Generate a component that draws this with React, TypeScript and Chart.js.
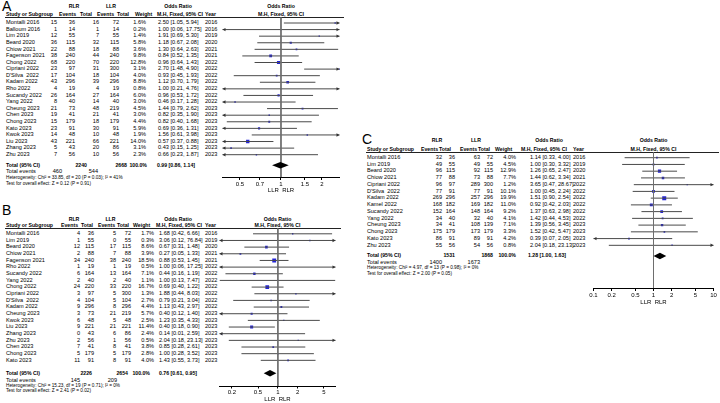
import React, { useEffect, useRef } from 'react';
import { Chart, registerables } from 'chart.js';

Chart.register(...registerables);

const FONT = '"Liberation Sans", Arial, Helvetica, sans-serif';
const W = 720;
const H = 403;
const BODY_FS = 5.6;
const HEAD_FS = 5.2;
const FOOT_FS = 4.7;

// ---------------- Panel A ----------------
const A_STUDIES = ['Montalli 2016', 'Balloum 2016', 'Lim 2019', 'Beard 2020', 'Chiow 2021', 'Fagenson 2021', 'Chong 2022', 'Cipriani 2022', "D'Silva  2022", 'Kadam 2022', 'Rho 2022', 'Sucandy 2022', 'Yang 2022', 'Cheung 2023', 'Chen 2023', 'Chong 2023', 'Kato 2023', 'Kwok 2023', 'Liu 2023', 'Zhang 2023', 'Zhu 2023'];
const A_RLR_EVENTS = [15, 1, 12, 36, 22, 38, 68, 23, 17, 43, 4, 26, 8, 21, 19, 15, 23, 14, 43, 5, 7];
const A_RLR_TOTAL = [36, 14, 55, 115, 88, 240, 220, 97, 104, 296, 19, 164, 40, 73, 41, 179, 91, 48, 221, 43, 56];
const A_LLR_EVENTS = [16, 1, 7, 32, 18, 44, 70, 31, 18, 39, 4, 27, 14, 48, 21, 18, 30, 10, 66, 20, 10];
const A_LLR_TOTAL = [72, 14, 55, 115, 88, 240, 220, 300, 104, 296, 19, 164, 40, 219, 41, 179, 91, 48, 221, 86, 56];
const A_WEIGHT = [1.6, 0.2, 1.4, 5.8, 3.6, 9.8, 12.8, 3.1, 4.0, 8.8, 0.8, 6.0, 3.0, 4.5, 3.0, 4.4, 5.9, 1.9, 14.0, 3.1, 2.3];
const A_OR = [2.5, 1.0, 1.91, 1.18, 1.3, 0.84, 0.96, 2.7, 0.93, 1.12, 1.0, 0.96, 0.46, 1.44, 0.82, 0.82, 0.69, 1.56, 0.57, 0.43, 0.66];
const A_LOWER = [1.05, 0.06, 0.69, 0.67, 0.64, 0.52, 0.64, 1.48, 0.45, 0.7, 0.21, 0.53, 0.17, 0.79, 0.35, 0.4, 0.36, 0.61, 0.37, 0.15, 0.23];
const A_UPPER = [5.94, 17.75, 5.3, 2.08, 2.63, 1.35, 1.43, 4.9, 1.93, 1.79, 4.76, 1.72, 1.28, 2.62, 1.9, 1.68, 1.31, 3.98, 0.88, 1.25, 1.87];
const A_YEAR = [2016, 2016, 2019, 2020, 2021, 2021, 2022, 2022, 2022, 2022, 2022, 2022, 2022, 2023, 2023, 2023, 2023, 2023, 2023, 2023, 2023];
const A_TOTAL_N = [2240, 2668];
const A_TOTAL_EVENTS = [460, 544];
const A_POOLED = [0.99, 0.86, 1.14];
const A_HET = 'Heterogeneity: Chi² = 33.85, df = 20 (P = 0.03); I² = 41%';
const A_TEST = 'Test for overall effect: Z = 0.12 (P = 0.91)';
const A_TICKS = [0.5, 0.7, 1, 1.5, 2];

// ---------------- Panel B ----------------
const B_STUDIES = ['Montalli 2016', 'Lim 2019', 'Beard 2020', 'Chiow 2021', 'Fagenson 2021', 'Rho 2022', 'Sucandy 2022', 'Yang 2022', 'Chong 2022', 'Cipriani 2022', "D'Silva  2022", 'Kadam 2022', 'Cheung 2023', 'Kwok 2023', 'Liu 2023', 'Zhang 2023', 'Zhu 2023', 'Chen 2023', 'Chong 2023', 'Kato 2023'];
const B_RLR_EVENTS = [4, 1, 12, 2, 34, 1, 6, 2, 24, 3, 4, 9, 3, 6, 9, 0, 2, 7, 5, 11];
const B_RLR_TOTAL = [36, 55, 115, 88, 240, 19, 164, 40, 220, 97, 104, 296, 73, 48, 221, 43, 56, 41, 179, 91];
const B_LLR_EVENTS = [5, 0, 17, 7, 38, 1, 13, 2, 33, 5, 5, 8, 21, 5, 21, 6, 1, 8, 5, 8];
const B_LLR_TOTAL = [72, 55, 115, 88, 240, 19, 164, 40, 220, 300, 104, 296, 219, 48, 221, 86, 56, 41, 179, 91];
const B_WEIGHT = [1.7, 0.3, 8.6, 3.9, 18.5, 0.5, 7.1, 1.1, 16.7, 1.3, 2.7, 4.4, 5.7, 2.5, 11.4, 2.4, 0.5, 3.8, 2.8, 4.0];
const B_OR = [1.68, 3.06, 0.67, 0.27, 0.88, 1.0, 0.44, 1.0, 0.69, 1.88, 0.79, 1.13, 0.4, 1.23, 0.4, 0.14, 2.04, 0.85, 1.0, 1.43];
const B_LOWER = [0.42, 0.12, 0.31, 0.05, 0.53, 0.06, 0.16, 0.13, 0.4, 0.44, 0.21, 0.43, 0.12, 0.35, 0.18, 0.01, 0.18, 0.28, 0.28, 0.55];
const B_UPPER = [6.66, 76.84, 1.48, 1.33, 1.45, 17.25, 1.19, 7.47, 1.22, 8.03, 3.04, 2.97, 1.4, 4.33, 0.9, 2.59, 23.13, 2.61, 3.52, 3.73];
const B_YEAR = [2016, 2019, 2020, 2021, 2021, 2022, 2022, 2022, 2022, 2022, 2022, 2022, 2023, 2023, 2023, 2023, 2023, 2023, 2023, 2023];
const B_TOTAL_N = [2226, 2654];
const B_TOTAL_EVENTS = [145, 209];
const B_POOLED = [0.76, 0.61, 0.95];
const B_HET = 'Heterogeneity: Chi² = 15.23, df = 19 (P = 0.71); I² = 0%';
const B_TEST = 'Test for overall effect: Z = 2.41 (P = 0.02)';
const B_TICKS = [0.2, 0.5, 1, 2, 5];

// ---------------- Panel C ----------------
const C_STUDIES = ['Montalli 2016', 'Lim 2019', 'Beard 2020', 'Chiow 2021', 'Cipriani 2022', "D'Silva  2022", 'Kadam 2022', 'Kamel 2022', 'Sucandy 2022', 'Yang 2022', 'Cheung 2023', 'Chong 2023', 'Kato 2023', 'Zhu 2023'];
const C_RLR_EVENTS = [32, 49, 96, 77, 96, 77, 269, 168, 152, 34, 34, 175, 86, 55];
const C_RLR_TOTAL = [36, 55, 115, 88, 97, 91, 296, 182, 164, 40, 41, 179, 91, 56];
const C_LLR_EVENTS = [63, 49, 92, 73, 289, 77, 257, 169, 148, 32, 108, 173, 89, 54];
const C_LLR_TOTAL = [72, 55, 115, 88, 300, 91, 296, 182, 164, 40, 139, 179, 91, 56];
const C_WEIGHT = [4.0, 4.5, 12.9, 7.7, 1.2, 10.1, 19.9, 11.0, 9.2, 4.1, 7.1, 3.3, 4.2, 0.8];
const C_OR = [1.14, 1.0, 1.26, 1.44, 3.65, 1.0, 1.51, 0.92, 1.37, 1.42, 1.39, 1.52, 0.39, 2.04];
const C_LOWER = [0.33, 0.3, 0.65, 0.62, 0.47, 0.45, 0.9, 0.42, 0.63, 0.44, 0.56, 0.42, 0.07, 0.18];
const C_UPPER = [4.0, 3.32, 2.47, 3.34, 28.67, 2.24, 2.54, 2.03, 2.98, 4.53, 3.45, 5.47, 2.05, 23.13];
const C_YEAR = [2016, 2019, 2020, 2021, 2022, 2022, 2022, 2022, 2022, 2022, 2023, 2023, 2023, 2023];
const C_TOTAL_N = [1531, 1868];
const C_TOTAL_EVENTS = [1400, 1673];
const C_POOLED = [1.28, 1.0, 1.63];
const C_HET = 'Heterogeneity: Chi² = 4.97, df = 13 (P = 0.98); I² = 0%';
const C_TEST = 'Test for overall effect: Z = 2.00 (P = 0.05)';
const C_TICKS = [0.1, 0.2, 0.5, 1, 2, 5, 10];

// ---------------- Layouts (positions only) ----------------
const LAYOUT_A = {
  letter: 'A', letterX: 2, letterY: 6.3,
  hdr1Y: 6.7, hdr2Y: 14.7, lineY: 17.3, lineX1: 5, lineX2: 344,
  rlrC: 74, llrC: 111, orC: 178,
  studyX: 6,
  hEv1L: 59, hTot1L: 80, hEv2L: 97, hTot2L: 117, hWL: 135, hCiL: 157, hYearL: 205,
  ev1R: 57, tot1R: 75, ev2R: 99, tot2R: 119, wR: 146, ciL: 158, yearL: 205,
  row0Y: 23, rowStep: 6.585,
  totalY: 165.3, eventsY: 171.7, hetY: 178, testY: 184.3,
  totN1R: 87, totN2R: 127, totWR: 147, totCiL: 157, totEv1R: 62, totEv2R: 98,
  plotL: 222.5, plotR: 339.5, axisY: 177, axisH: 16.6, tickLen: 3, tickPad: 0.5,
  xMin: 0.372, xMax: 2.69,
};
const LAYOUT_B = {
  letter: 'B', letterX: 2, letterY: 210,
  hdr1Y: 219.3, hdr2Y: 225.7, lineY: 228.3, lineX1: 5, lineX2: 341,
  rlrC: 74, llrC: 110.5, orC: 178,
  studyX: 6,
  hEv1L: 61, hTot1L: 81, hEv2L: 98, hTot2L: 117, hWL: 133, hCiL: 156, hYearL: 205,
  ev1R: 80, tot1R: 94, ev2R: 116, tot2R: 131, wR: 154, ciL: 159, yearL: 205,
  row0Y: 233.8, rowStep: 6.66,
  totalY: 373.3, eventsY: 380.3, hetY: 386, testY: 391.7,
  totN1R: 92, totN2R: 128, totWR: 150, totCiL: 159, totEv1R: 80, totEv2R: 117,
  plotL: 219.5, plotR: 335.5, axisY: 386, axisH: 17, tickLen: 2.5, tickPad: 0.3,
  xMin: 0.13, xMax: 7.5,
};
const LAYOUT_C = {
  letter: 'C', letterX: 362, letterY: 139,
  hdr1Y: 141, hdr2Y: 149.5, lineY: 152.3, lineX1: 366, lineX2: 719,
  rlrC: 437, llrC: 476, orC: 549,
  studyX: 367,
  hEv1L: 421, hTot1L: 439, hEv2L: 460, hTot2L: 478, hWL: 495, hCiL: 521, hYearL: 573,
  ev1R: 442, tot1R: 455, ev2R: 480, tot2R: 493, wR: 516, ciL: 530, yearL: 573,
  row0Y: 157.7, rowStep: 6.74,
  totalY: 256, eventsY: 262.3, hetY: 268.5, testY: 274.5,
  totN1R: 455, totN2R: 493, totWR: 516, totCiL: 528, totEv1R: 442, totEv2R: 480,
  plotL: 593.5, plotR: 713.5, axisY: 288, axisH: 17.6, tickLen: 3, tickPad: 0.5,
  xMin: 0.1, xMax: 10,
};

const PANEL_A = {
  L: LAYOUT_A, studies: A_STUDIES, rlrEv: A_RLR_EVENTS, rlrN: A_RLR_TOTAL, llrEv: A_LLR_EVENTS, llrN: A_LLR_TOTAL,
  weight: A_WEIGHT, or: A_OR, lower: A_LOWER, upper: A_UPPER, year: A_YEAR,
  totalN: A_TOTAL_N, totalEv: A_TOTAL_EVENTS, pooled: A_POOLED, het: A_HET, test: A_TEST, ticks: A_TICKS,
};
const PANEL_B = {
  L: LAYOUT_B, studies: B_STUDIES, rlrEv: B_RLR_EVENTS, rlrN: B_RLR_TOTAL, llrEv: B_LLR_EVENTS, llrN: B_LLR_TOTAL,
  weight: B_WEIGHT, or: B_OR, lower: B_LOWER, upper: B_UPPER, year: B_YEAR,
  totalN: B_TOTAL_N, totalEv: B_TOTAL_EVENTS, pooled: B_POOLED, het: B_HET, test: B_TEST, ticks: B_TICKS,
};
const PANEL_C = {
  L: LAYOUT_C, studies: C_STUDIES, rlrEv: C_RLR_EVENTS, rlrN: C_RLR_TOTAL, llrEv: C_LLR_EVENTS, llrN: C_LLR_TOTAL,
  weight: C_WEIGHT, or: C_OR, lower: C_LOWER, upper: C_UPPER, year: C_YEAR,
  totalN: C_TOTAL_N, totalEv: C_TOTAL_EVENTS, pooled: C_POOLED, het: C_HET, test: C_TEST, ticks: C_TICKS,
};

const fmtCI = (o: number, lo: number, hi: number) => `${o.toFixed(2)} [${lo.toFixed(2)}, ${hi.toFixed(2)}]`;
const boxSide = (w: number) => Math.max(1.4, 0.9 * Math.sqrt(w));

function Txt({ x, y, s, fs = BODY_FS, align = 'left', bold = false }: any) {
  const style: any = {
    position: 'absolute', left: x, top: y - fs / 2, fontSize: fs, lineHeight: fs + 'px',
    fontFamily: FONT, fontWeight: bold ? 700 : 400, whiteSpace: 'pre', color: '#000',
  };
  if (align === 'right') style.transform = 'translateX(-100%)';
  if (align === 'center') style.transform = 'translateX(-50%)';
  return <div style={style}>{s}</div>;
}

function PanelText({ p }: any) {
  const L = p.L;
  const plotC = (L.plotL + L.plotR) / 2;
  const rows: any[] = [];
  p.studies.forEach((name: string, i: number) => {
    const y = L.row0Y + i * L.rowStep;
    rows.push(
      <React.Fragment key={i}>
        <Txt x={L.studyX} y={y} s={name} />
        <Txt x={L.ev1R} y={y} s={String(p.rlrEv[i])} align="right" />
        <Txt x={L.tot1R} y={y} s={String(p.rlrN[i])} align="right" />
        <Txt x={L.ev2R} y={y} s={String(p.llrEv[i])} align="right" />
        <Txt x={L.tot2R} y={y} s={String(p.llrN[i])} align="right" />
        <Txt x={L.wR} y={y} s={p.weight[i].toFixed(1) + '%'} align="right" />
        <Txt x={L.ciL} y={y} s={fmtCI(p.or[i], p.lower[i], p.upper[i])} />
        <Txt x={L.yearL} y={y} s={String(p.year[i])} />
      </React.Fragment>
    );
  });
  return (
    <>
      <Txt x={L.letterX} y={L.letterY} s={L.letter} fs={14} />
      <Txt x={L.rlrC} y={L.hdr1Y} s="RLR" align="center" bold fs={HEAD_FS} />
      <Txt x={L.llrC} y={L.hdr1Y} s="LLR" align="center" bold fs={HEAD_FS} />
      <Txt x={L.orC} y={L.hdr1Y} s="Odds Ratio" align="center" bold fs={HEAD_FS} />
      <Txt x={plotC} y={L.hdr1Y} s="Odds Ratio" align="center" bold fs={HEAD_FS} />
      <Txt x={L.studyX} y={L.hdr2Y} s="Study or Subgroup" bold fs={HEAD_FS} />
      <Txt x={L.hEv1L} y={L.hdr2Y} s="Events" bold fs={HEAD_FS} />
      <Txt x={L.hTot1L} y={L.hdr2Y} s="Total" bold fs={HEAD_FS} />
      <Txt x={L.hEv2L} y={L.hdr2Y} s="Events" bold fs={HEAD_FS} />
      <Txt x={L.hTot2L} y={L.hdr2Y} s="Total" bold fs={HEAD_FS} />
      <Txt x={L.hWL} y={L.hdr2Y} s="Weight" bold fs={HEAD_FS} />
      <Txt x={L.hCiL} y={L.hdr2Y} s="M.H, Fixed, 95% CI" bold fs={HEAD_FS} />
      <Txt x={L.hYearL} y={L.hdr2Y} s="Year" bold fs={HEAD_FS} />
      <Txt x={plotC} y={L.hdr2Y} s="M.H, Fixed, 95% CI" align="center" bold fs={HEAD_FS} />
      <div style={{ position: 'absolute', left: L.lineX1, top: L.lineY - 0.5, width: L.lineX2 - L.lineX1, height: 1, background: '#222' }} />
      {rows}
      <Txt x={L.studyX} y={L.totalY} s="Total (95% CI)" bold fs={HEAD_FS} />
      <Txt x={L.totN1R} y={L.totalY} s={String(p.totalN[0])} align="right" bold fs={HEAD_FS} />
      <Txt x={L.totN2R} y={L.totalY} s={String(p.totalN[1])} align="right" bold fs={HEAD_FS} />
      <Txt x={L.totWR} y={L.totalY} s="100.0%" align="right" bold fs={HEAD_FS} />
      <Txt x={L.totCiL} y={L.totalY} s={fmtCI(p.pooled[0], p.pooled[1], p.pooled[2])} bold fs={HEAD_FS} />
      <Txt x={L.studyX} y={L.eventsY} s="Total events" />
      <Txt x={L.totEv1R} y={L.eventsY} s={String(p.totalEv[0])} align="right" />
      <Txt x={L.totEv2R} y={L.eventsY} s={String(p.totalEv[1])} align="right" />
      <Txt x={L.studyX} y={L.hetY} s={p.het} fs={FOOT_FS} />
      <Txt x={L.studyX} y={L.testY} s={p.test} fs={FOOT_FS} />
    </>
  );
}

function ForestPlot({ p }: any) {
  const ref = useRef<HTMLCanvasElement>(null);
  useEffect(() => {
    const canvas = ref.current as HTMLCanvasElement;
    const L = p.L;
    const n = p.or.length;
    const yTop = (L.lineY - L.row0Y) / L.rowStep;
    const yBot = (L.axisY - L.row0Y) / L.rowStep;
    const totalRow = (L.totalY - L.row0Y) / L.rowStep;

    const datasets: any[] = [];
    datasets.push({
      data: [{ x: 1, y: yTop }, { x: 1, y: yBot }],
      showLine: true, borderColor: '#6e6e6e', borderWidth: 1, pointRadius: 0,
    });
    for (let i = 0; i < n; i++) {
      datasets.push({
        data: [{ x: p.lower[i], y: i }, { x: p.upper[i], y: i }],
        showLine: true, borderColor: '#4a4a4a', borderWidth: 1, pointRadius: 0,
      });
    }
    datasets.push({
      data: p.or.map((v: number, i: number) => ({ x: v, y: i })),
      showLine: false, pointStyle: 'rect',
      pointRadius: p.weight.map((w: number) => boxSide(w) / Math.SQRT2),
      pointBackgroundColor: '#2323dc', pointBorderWidth: 0, borderWidth: 0,
    });

    const extras = {
      id: 'forestExtras',
      afterDatasetsDraw(chart: any) {
        const { ctx, scales } = chart;
        const xs = scales.x;
        const ys = scales.y;
        const left = xs.getPixelForValue(L.xMin);
        const right = xs.getPixelForValue(L.xMax);
        ctx.save();
        ctx.fillStyle = '#333';
        for (let i = 0; i < n; i++) {
          const yy = ys.getPixelForValue(i);
          if (p.lower[i] < L.xMin) {
            ctx.beginPath();
            ctx.moveTo(left, yy);
            ctx.lineTo(left + 3, yy - 1.7);
            ctx.lineTo(left + 3, yy + 1.7);
            ctx.closePath();
            ctx.fill();
          }
          if (p.upper[i] > L.xMax) {
            ctx.beginPath();
            ctx.moveTo(right, yy);
            ctx.lineTo(right - 3, yy - 1.7);
            ctx.lineTo(right - 3, yy + 1.7);
            ctx.closePath();
            ctx.fill();
          }
        }
        const yc = ys.getPixelForValue(totalRow);
        const xc = xs.getPixelForValue(p.pooled[0]);
        ctx.fillStyle = '#000';
        ctx.beginPath();
        ctx.moveTo(xs.getPixelForValue(p.pooled[1]), yc);
        ctx.lineTo(xc, yc - 3.2);
        ctx.lineTo(xs.getPixelForValue(p.pooled[2]), yc);
        ctx.lineTo(xc, yc + 3.2);
        ctx.closePath();
        ctx.fill();
        ctx.restore();
      },
    };

    const chart = new Chart(canvas, {
      type: 'scatter',
      data: { datasets },
      options: {
        responsive: false,
        animation: false,
        events: [],
        devicePixelRatio: 1,
        layout: {
          padding: { left: L.plotL, right: W - L.plotR, top: L.lineY, bottom: H - L.axisY - L.axisH },
        },
        plugins: { legend: { display: false }, tooltip: { enabled: false } },
        scales: {
          x: {
            type: 'logarithmic',
            position: 'bottom',
            min: L.xMin,
            max: L.xMax,
            afterFit: (s: any) => { s.height = L.axisH; },
            afterBuildTicks: (s: any) => { s.ticks = p.ticks.map((v: number) => ({ value: v })); },
            ticks: {
              autoSkip: false, maxRotation: 0, minRotation: 0, padding: L.tickPad,
              color: '#000', font: { family: FONT, size: 6 },
              callback: (v: any) => String(v),
            },
            grid: { display: true, drawOnChartArea: false, drawTicks: true, tickLength: L.tickLen, color: '#000', tickWidth: 1 },
            border: { display: true, color: '#000', width: 1 },
            title: { display: true, text: 'LLR  RLR', color: '#000', font: { family: FONT, size: 6 }, padding: 0 },
          },
          y: { type: 'linear', display: false, min: yTop, max: yBot, reverse: true },
        },
      } as any,
      plugins: [extras],
    });
    return () => chart.destroy();
  }, [p]);
  return (
    <canvas
      ref={ref}
      width={W}
      height={H}
      style={{ position: 'absolute', left: 0, top: 0, width: W, height: H, pointerEvents: 'none' }}
    />
  );
}

export default function App() {
  return (
    <div style={{ position: 'absolute', left: 0, top: 0, width: W, height: H, overflow: 'hidden', background: '#fff' }}>
      <PanelText p={PANEL_A} />
      <PanelText p={PANEL_B} />
      <PanelText p={PANEL_C} />
      <ForestPlot p={PANEL_A} />
      <ForestPlot p={PANEL_B} />
      <ForestPlot p={PANEL_C} />
    </div>
  );
}
